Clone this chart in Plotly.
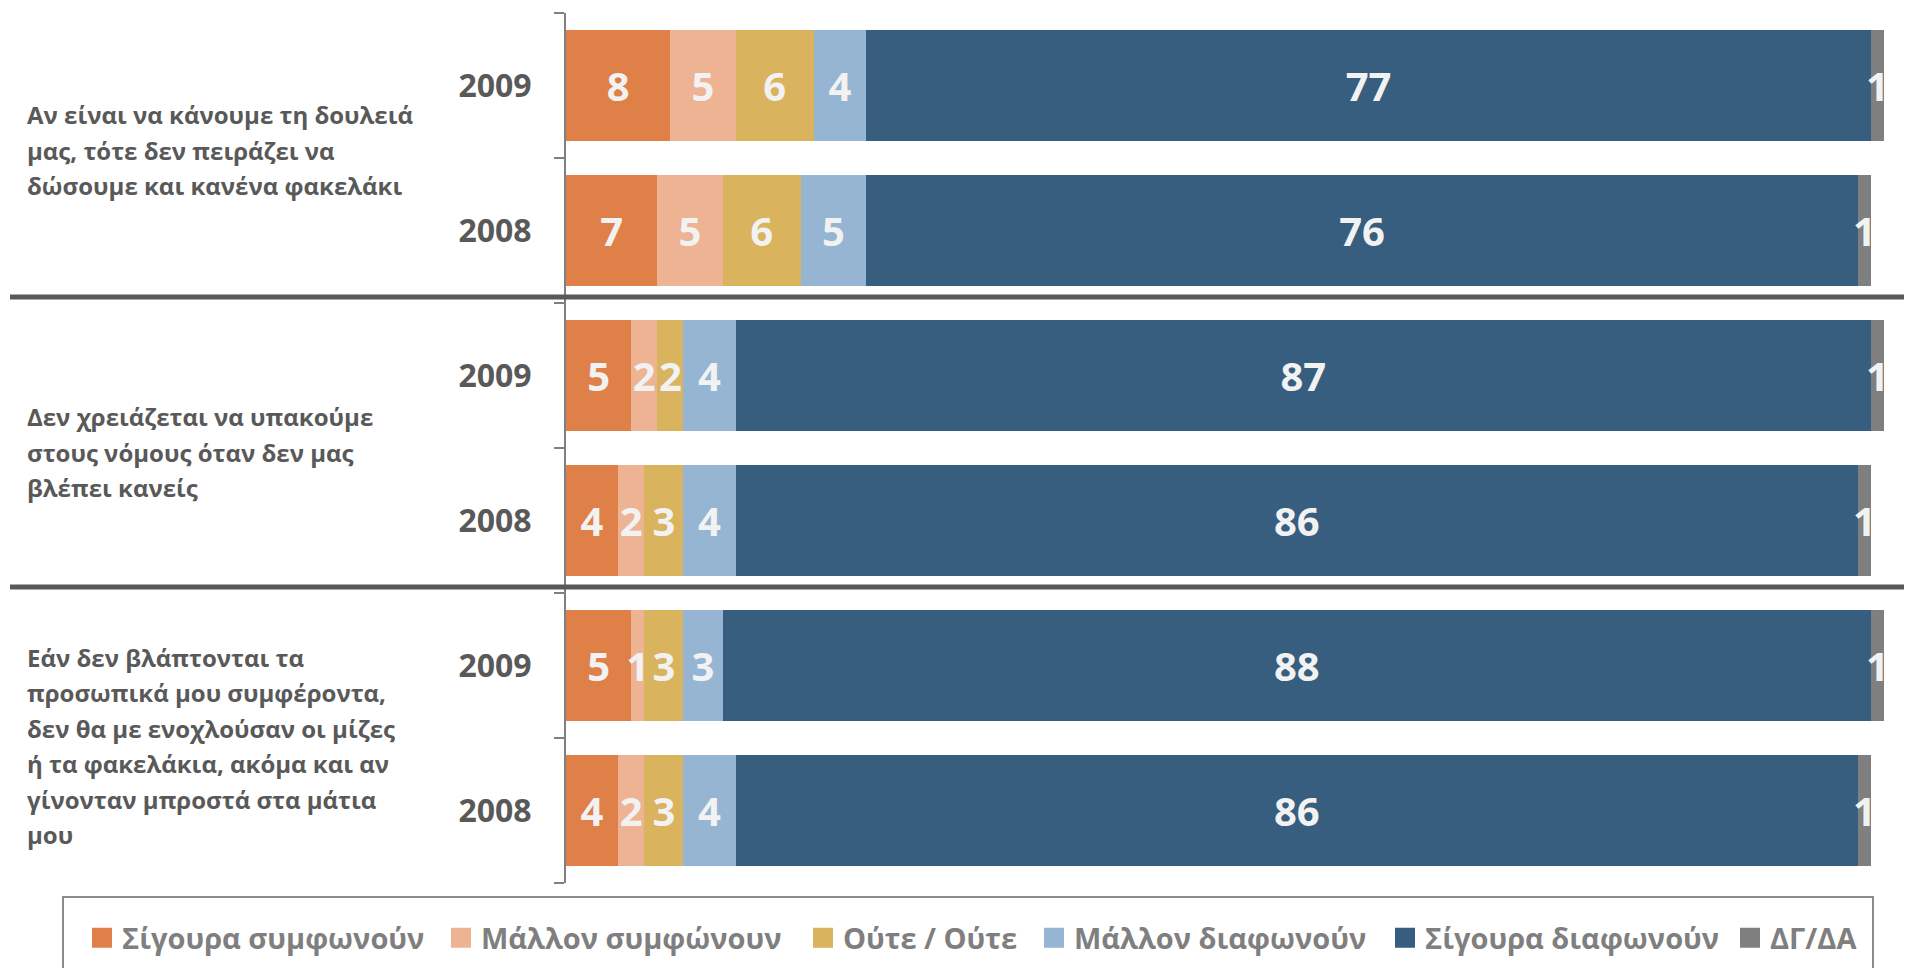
import plotly.graph_objects as go

# --- data ------------------------------------------------------------------ #
questions = [
    ["Αν είναι να κάνουμε τη δουλειά", "μας, τότε δεν πειράζει να",
     "δώσουμε και κανένα φακελάκι"],
    ["Δεν χρειάζεται να υπακούμε", "στους νόμους όταν δεν μας",
     "βλέπει κανείς"],
    ["Εάν δεν βλάπτονται τα", "προσωπικά μου συμφέροντα,",
     "δεν θα με ενοχλούσαν οι μίζες", "ή τα φακελάκια, ακόμα και αν",
     "γίνονταν μπροστά στα μάτια", "μου"],
]
years = ["2009", "2008"]
rows = [f"Q{q + 1} {y}" for q in range(len(questions)) for y in years]

series_names = ["Σίγουρα συμφωνούν", "Μάλλον συμφώνουν", "Ούτε / Ούτε",
                "Μάλλον διαφωνούν", "Σίγουρα διαφωνούν", "ΔΓ/ΔΑ"]
sigoura_symfonoun = [8, 7, 5, 4, 5, 4]
mallon_symfonoun = [5, 5, 2, 2, 1, 2]
oute_oute = [6, 6, 2, 3, 3, 3]
mallon_diafonoun = [4, 5, 4, 4, 3, 4]
sigoura_diafonoun = [77, 76, 87, 86, 88, 86]
dg_da = [1, 1, 1, 1, 1, 1]
series_values = [sigoura_symfonoun, mallon_symfonoun, oute_oute,
                 mallon_diafonoun, sigoura_diafonoun, dg_da]
colors = ["#DF8049", "#EDB393", "#D9B35E", "#95B5D3", "#375E7F", "#7F7F7F"]

# --- layout constants (pixels, page coords; page body has an 8px margin) -- #
OFF = 8
W, H = 1912 - 2 * OFF, 976 - 2 * OFF
ML, MT = 566 - OFF, 13 - OFF
PW = 1318
PH = 870
MR = W - ML - PW
MB = H - MT - PH
CAT_PX = PH / len(rows)          # pixels per category slot
LINE_PX = 35.5                    # line pitch of the question text
LABEL_SHIFT = [-8, 4, 8]          # vertical nudge of each question block
SWATCH_CENTRES = [103, 462, 824, 1055, 1406, 1751]   # legend entry x


def px_x(p):
    return (p - OFF - ML) / PW


def px_y(p):
    return (H - MB - (p - OFF)) / PH


TEXT_GREY = "#595959"
FONT = "Open Sans, sans-serif"

fig = go.Figure()
legend_layouts = {}
for k, (name, vals, col) in enumerate(zip(series_names, series_values, colors)):
    fig.add_trace(go.Bar(
        y=rows, x=vals, name=name, orientation="h", showlegend=False,
        marker=dict(color=col, line=dict(width=0)),
        text=[str(v) for v in vals], textposition="inside",
        insidetextanchor="middle", textangle=0, constraintext="none",
        textfont=dict(family=FONT, size=40, color="#F2F2F2", weight="bold"),
        hoverinfo="skip",
    ))
    # one legend per entry so each sits where the original places it
    leg = "legend" if k == 0 else f"legend{k + 1}"
    fig.add_trace(go.Scatter(
        x=[None], y=[None], mode="markers", name=name, legend=leg,
        marker=dict(symbol="square", size=16, color=col,
                    line=dict(color=col, width=4)),
        hoverinfo="skip",
    ))
    legend_layouts[leg] = dict(
        orientation="h", x=px_x(SWATCH_CENTRES[k] - 21), xanchor="left",
        y=px_y(938), yanchor="middle", itemsizing="trace",
        bgcolor="rgba(0,0,0,0)",
        font=dict(family=FONT, size=29, color="#7F7F7F", weight="bold"),
    )

# group separators
for g in range(1, len(questions)):
    yb = g * len(years) - 0.5 - 6 / CAT_PX
    fig.add_shape(type="line", xref="paper", yref="y",
                  x0=px_x(10), x1=1.05, y0=yb, y1=yb,
                  line=dict(color=TEXT_GREY, width=5), layer="above")

# question labels, one annotation per line to keep the line pitch
for g, lines in enumerate(questions):
    centre = g * len(years) + 0.5 + LABEL_SHIFT[g] / CAT_PX
    n = len(lines)
    for i, line in enumerate(lines):
        fig.add_annotation(
            text=line, xref="paper", yref="y", x=px_x(25),
            y=centre + (i - (n - 1) / 2) * LINE_PX / CAT_PX,
            xanchor="left", yanchor="middle", align="left", showarrow=False,
            font=dict(family=FONT, size=24, color=TEXT_GREY, weight="bold"),
        )

# legend frame
fig.add_shape(type="rect", xref="paper", yref="paper",
              x0=px_x(63), x1=px_x(1873), y0=px_y(897), y1=px_y(1000),
              line=dict(color="#8C8C8C", width=2), fillcolor="rgba(0,0,0,0)")

fig.update_layout(
    width=W, height=H, barmode="stack", bargap=0.228,
    margin=dict(l=ML, r=MR, t=MT, b=MB),
    paper_bgcolor="white", plot_bgcolor="white",
    showlegend=True,
    xaxis=dict(range=[0, 101], visible=False, fixedrange=True),
    yaxis=dict(
        categoryorder="array", categoryarray=rows, autorange="reversed",
        tickmode="array", tickvals=rows, ticktext=[r.split()[1] for r in rows],
        tickson="boundaries", ticks="outside", ticklen=10, tickwidth=2,
        tickcolor="#7F7F7F", showline=True, linecolor="#7F7F7F", linewidth=2,
        showgrid=False, ticklabelstandoff=26,
        tickfont=dict(family=FONT, size=32, color=TEXT_GREY, weight="bold"),
    ),
    **legend_layouts,
)

fig.write_html("out.html")
